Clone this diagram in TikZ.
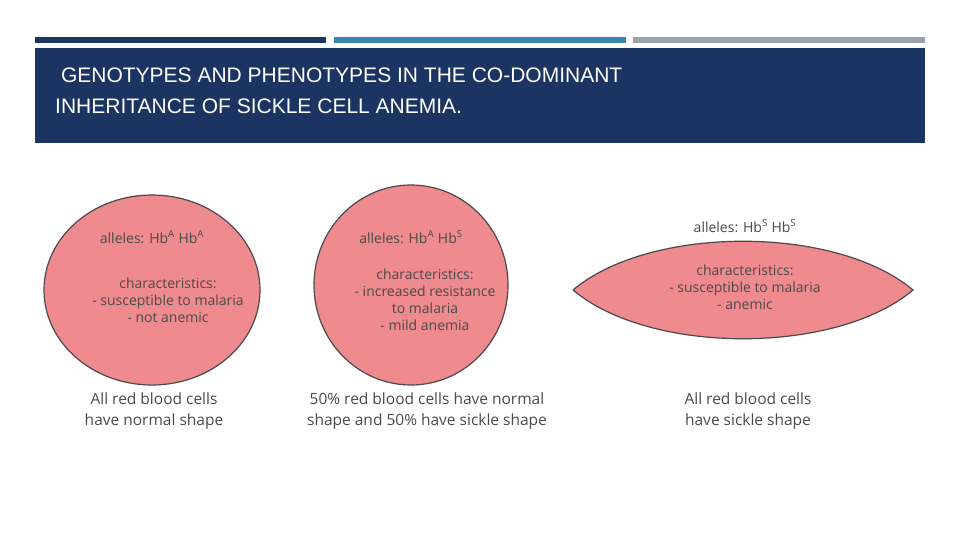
\documentclass[tikz,border=0pt]{standalone}
\usepackage{fontspec}
\usetikzlibrary{shapes.geometric}
\setmainfont{Liberation Sans}
\newfontfamily\hand{Open Sans}
\definecolor{navy}{HTML}{1C3461}
\definecolor{midblue}{HTML}{3B84B4}
\definecolor{bargray}{HTML}{9EA3A9}
\definecolor{cellpink}{HTML}{EF8A8F}
\definecolor{ink}{HTML}{4A4A4A}
\begin{document}
\begin{tikzpicture}[x=1pt,y=-1pt,
  cell/.style={fill=cellpink,draw=ink,line width=1.2pt},
  lbl/.style={align=center,text=ink,font=\hand\fontsize{14}{17}\selectfont},
  captext/.style={align=center,text=ink,font=\hand\fontsize{15.5}{21}\selectfont}]
\useasboundingbox (0,0) rectangle (960,540);
\fill[navy] (35,37) rectangle (326,43);
\fill[midblue] (334,37) rectangle (626,43);
\fill[bargray] (633,37) rectangle (925,43);
\fill[navy] (35,48) rectangle (925,143);
\node[anchor=north west,text=white,align=left,font=\fontsize{21}{31}\selectfont,inner sep=0] (title) at (55,68)
 {\ GENOTYPES AND PHENOTYPES IN THE CO-DOMINANT\\INHERITANCE OF SICKLE CELL ANEMIA.};
\node[cell,ellipse,minimum width=216,minimum height=190,inner sep=0] (c1) at (152,290) {};
\node[cell,ellipse,minimum width=194,minimum height=200,inner sep=0] (c2) at (411,285) {};
\path[cell] (573,290) .. controls (650,225) and (836,225) .. (913,290) .. controls (836,355) and (650,355) .. (573,290);
\coordinate (c3) at (743,290);
\node[lbl] (a1) at (152,237) {alleles: Hb\textsuperscript{A} Hb\textsuperscript{A}};
\node[lbl] (t1) at (168,300) {characteristics:\\- susceptible to malaria\\- not anemic};
\node[lbl] (a2) at (411,237) {alleles: Hb\textsuperscript{A} Hb\textsuperscript{S}};
\node[lbl] (t2) at (425,300) {characteristics:\\- increased resistance\\to malaria\\- mild anemia};
\node[lbl] (a3) at (745,226) {alleles: Hb\textsuperscript{S} Hb\textsuperscript{S}};
\node[lbl] (t3) at (745,287) {characteristics:\\- susceptible to malaria\\- anemic};
\node[captext] (p1) at (154,411) {All red blood cells\\have normal shape};
\node[captext] (p2) at (427,411) {50\% red blood cells have normal\\shape and 50\% have sickle shape};
\node[captext] (p3) at (748,411) {All red blood cells\\have sickle shape};
\end{tikzpicture}
\end{document}
